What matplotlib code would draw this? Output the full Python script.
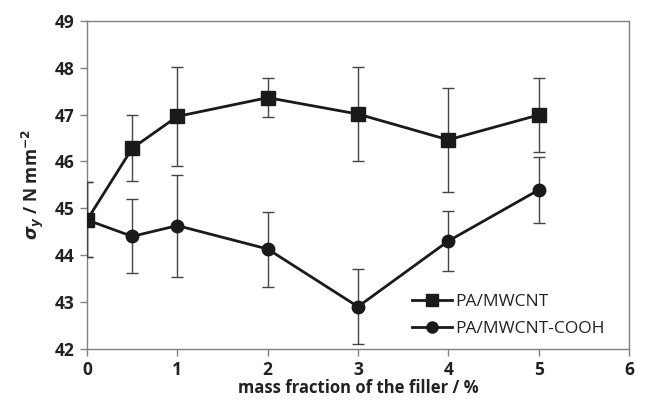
import numpy as np
from matplotlib import pyplot as plt
from matplotlib.lines import Line2D

# filler content / %
x = [0, 0.5, 1, 2, 3, 4, 5]

# PA/MWCNT
y_mwcnt = [44.75, 46.28, 46.96, 47.36, 47.01, 46.46, 46.99]
err_mwcnt = [0.80, 0.70, 1.05, 0.42, 1.00, 1.11, 0.80]

# PA/MWCNT-COOH
y_cooh = [44.75, 44.40, 44.63, 44.13, 42.90, 44.30, 45.39]
err_cooh = [0.80, 0.79, 1.09, 0.80, 0.80, 0.64, 0.70]

plt.rcParams['font.family'] = ['Open Sans', 'DejaVu Sans']
plt.rcParams['mathtext.fontset'] = 'dejavusans'

fig = plt.figure(figsize=(6.45, 4.08), dpi=100)
ax = fig.add_axes([0.135, 0.145, 0.840, 0.804])

ax.errorbar(x, y_mwcnt, yerr=err_mwcnt, color='#1a1a1a', lw=2.0,
            marker='s', ms=10, ecolor='#444444', elinewidth=1.0,
            capsize=4.5, capthick=1.0, zorder=3)
ax.errorbar(x, y_cooh, yerr=err_cooh, color='#1a1a1a', lw=2.0,
            marker='o', ms=9, ecolor='#444444', elinewidth=1.0,
            capsize=4.5, capthick=1.0, zorder=3)

ax.set_xlim(0, 6)
ax.set_ylim(42, 49)
ax.set_xticks(range(0, 7))
ax.set_yticks(range(42, 50))

for s in ax.spines.values():
    s.set_color('#808080')
    s.set_linewidth(1.0)
ax.tick_params(direction='out', length=5, width=1.0, color='#808080',
               labelsize=12.5, labelcolor='#222222', pad=4)
for lab in ax.get_xticklabels() + ax.get_yticklabels():
    lab.set_fontweight('bold')

ax.set_xlabel('mass fraction of the filler / %', fontsize=12,
              fontweight='bold', color='#222222', labelpad=0)
ax.set_ylabel(r'$\mathbfit{\sigma_y}$ / N mm$^{\mathbf{-2}}$', fontsize=12.5,
              fontweight='bold', color='#222222', labelpad=6)

handles = [Line2D([], [], color='#1a1a1a', lw=2.0, marker='s', ms=9),
           Line2D([], [], color='#1a1a1a', lw=2.0, marker='o', ms=8)]
leg = ax.legend(handles, ['PA/MWCNT', 'PA/MWCNT-COOH'], loc='lower right',
                frameon=False, fontsize=12.5, handlelength=2.3,
                handletextpad=0.2, labelspacing=0.65,
                bbox_to_anchor=(0.985, -0.012))
for t in leg.get_texts():
    t.set_color('#222222')

fig.savefig('out.png', dpi=100)
